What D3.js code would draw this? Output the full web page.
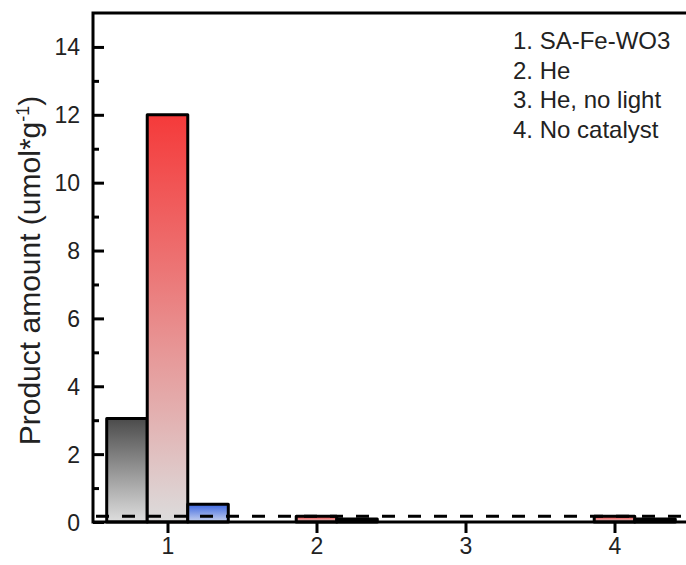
<!DOCTYPE html>
<html>
<head>
<meta charset="utf-8">
<script src="https://cdn.jsdelivr.net/npm/d3@7"></script>
<style>
  html, body { margin: 0; padding: 0; background: #fff; }
  svg { display: block; font-family: "Liberation Sans", Arial, sans-serif; }
</style>
</head>
<body>
<svg id="chart" width="686" height="565"></svg>
<script>
// Experimental conditions on the x axis
const categories = [1, 2, 3, 4];
// Product amount per condition, three products per group
const seriesNames = ["grey", "red", "blue"];
const greyValues = [3.05, 0, 0, 0];
const redValues = [12.0, 0.17, 0, 0.17];
const blueValues = [0.52, 0.09, 0, 0.09];
// Detection-limit reference line
const referenceLevel = 0.17;
// Axis ticks
const yMajorTicks = [0, 2, 4, 6, 8, 10, 12, 14];
const yMinorTicks = [1, 3, 5, 7, 9, 11, 13];
const legendLines = ["1. SA-Fe-WO3", "2. He", "3. He, no light", "4. No catalyst"];

const svg = d3.select("#chart");
const margin = { left: 93, top: 13, right: 689, bottom: 522 };
const lw = 3;

const x = d3.scaleLinear().domain([0.5, 4.5]).range([margin.left, margin.right]);
const y = d3.scaleLinear().domain([0, 15]).range([margin.bottom, margin.top]);

// offsets of the three bars inside a group, in category units
const inner = d3.scaleBand().domain(seriesNames).range([-0.408, 0.408]).padding(0);

const gradients = {
  grey: [["0%", "#4b4b4b"], ["100%", "#dedede"]],
  red:  [["0%", "#f53a3a"], ["30%", "#ee6868"], ["100%", "#dcdcdc"]],
  blue: [["0%", "#3e68e0"], ["100%", "#c9d3ef"]]
};
const defs = svg.append("defs");
Object.entries(gradients).forEach(([name, stops]) => {
  const g = defs.append("linearGradient")
    .attr("id", "grad-" + name)
    .attr("x1", 0).attr("y1", 0).attr("x2", 0).attr("y2", 1);
  stops.forEach(([off, col]) => g.append("stop").attr("offset", off).attr("stop-color", col));
});

const valuesBySeries = { grey: greyValues, red: redValues, blue: blueValues };
const barData = [];
seriesNames.forEach(s => {
  categories.forEach((c, i) => {
    barData.push({ series: s, cat: c, value: valuesBySeries[s][i] });
  });
});

svg.append("g").selectAll("rect")
  .data(barData.filter(d => d.value > 0))
  .join("rect")
  .attr("x", d => x(d.cat + inner(d.series)))
  .attr("width", d => x(d.cat + inner(d.series) + inner.bandwidth()) - x(d.cat + inner(d.series)))
  .attr("y", d => y(d.value))
  .attr("height", d => y(0) - y(d.value))
  .attr("fill", d => `url(#grad-${d.series})`)
  .attr("stroke", "#000")
  .attr("stroke-width", lw)
  .attr("stroke-linejoin", "round");

// reference dashed line
svg.append("line")
  .attr("x1", x(0.5)).attr("x2", x(4.5))
  .attr("y1", y(referenceLevel)).attr("y2", y(referenceLevel))
  .attr("stroke", "#000").attr("stroke-width", lw)
  .attr("stroke-dasharray", "13,13")
  .attr("stroke-dashoffset", -3);

// y axis: ticks point into the plot
const yAxis = svg.append("g").attr("transform", `translate(${margin.left},0)`);
yAxis.call(d3.axisRight(y).tickValues(yMajorTicks).tickSize(11).tickFormat(""))
  .call(g => g.select(".domain").remove());
yAxis.append("g").call(d3.axisRight(y).tickValues(yMinorTicks).tickSize(6).tickFormat(""))
  .call(g => g.select(".domain").remove());
yAxis.selectAll(".tick line").attr("stroke", "#000").attr("stroke-width", lw);
yAxis.selectAll(".tick")
  .filter(d => yMajorTicks.includes(d))
  .append("text")
  .attr("x", -13).attr("dy", "0.35em")
  .attr("text-anchor", "end")
  .attr("fill", "#222")
  .style("font-size", "23px")
  .text(d => d);

// x axis: ticks point outward
const xAxis = svg.append("g").attr("transform", `translate(0,${margin.bottom})`);
xAxis.call(d3.axisBottom(x).tickValues(categories).tickSize(11).tickPadding(5).tickFormat(d3.format("d")))
  .call(g => g.select(".domain").remove());
xAxis.selectAll(".tick line").attr("stroke", "#000").attr("stroke-width", lw);
xAxis.selectAll(".tick text").attr("fill", "#222").style("font-size", "23px");

// frame
svg.append("path")
  .attr("d", `M${margin.left},${margin.bottom} V${margin.top} H${margin.right} V${margin.bottom} Z`)
  .attr("fill", "none").attr("stroke", "#000").attr("stroke-width", lw);

// y title
const title = svg.append("text")
  .attr("transform", `translate(40,${(margin.top + margin.bottom) / 2 + 3}) rotate(-90)`)
  .attr("text-anchor", "middle")
  .attr("fill", "#222")
  .style("font-size", "30px");
title.append("tspan").text("Product amount (umol*g");
title.append("tspan").attr("dy", -11).style("font-size", "18px").text("-1");
title.append("tspan").attr("dy", 11).text(")");

// legend text
svg.append("g").selectAll("text")
  .data(legendLines)
  .join("text")
  .attr("x", 513)
  .attr("y", (d, i) => 49 + i * 29.7)
  .attr("fill", "#222")
  .style("font-size", "24px")
  .text(d => d);
</script>
</body>
</html>
